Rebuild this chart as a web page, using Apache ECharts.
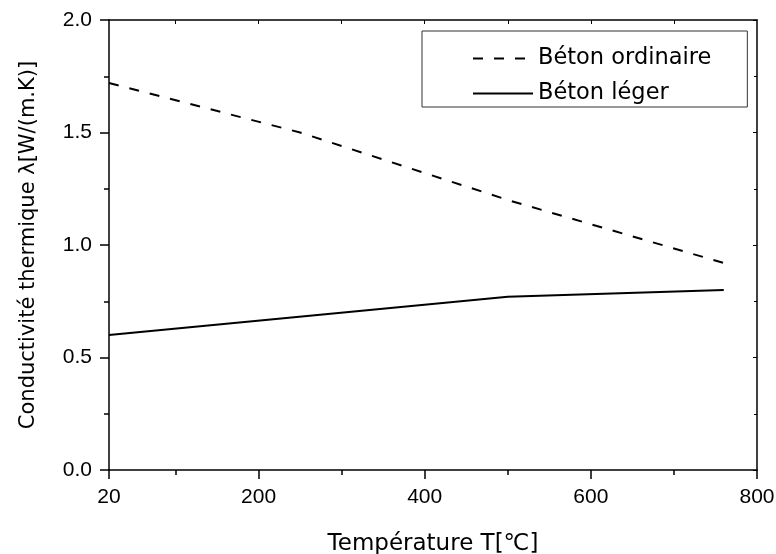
<!DOCTYPE html>
<html>
<head>
<meta charset="utf-8">
<script src="https://cdn.jsdelivr.net/npm/echarts@6/dist/echarts.min.js"></script>
<style>html,body{margin:0;padding:0;background:#fff}#c{width:776px;height:554px}</style>
</head>
<body>
<div id="c"></div>
<script>
const seriesNames = ['Béton ordinaire', 'Béton léger'];
const ordinaireT = [20, 250, 500, 760];
const ordinaireL = [1.72, 1.50, 1.20, 0.92];
const legerT = [20, 500, 760];
const legerL = [0.60, 0.77, 0.80];
const xMajorTicks = [20, 200, 400, 600, 800];
const xMinorTicks = [100, 300, 500, 700];
const xTopTicks = [100, 200, 300, 400, 500, 600, 700];
const xTitle = 'Température T[℃]';
const yTitle = 'Conductivité thermique λ[W/(m.K)]';

const FONT = '"DejaVu Sans", "Liberation Sans", Arial, sans-serif';
const TICKFONT = '"Liberation Sans", Arial, Helvetica, sans-serif';
const axisLine = { show: true, lineStyle: { color: '#000', width: 1.5 } };
const chart = echarts.init(document.getElementById('c'));
const pairs = (xs, ys) => xs.map((x, i) => [x, ys[i]]);

chart.setOption({
  animation: false,
  backgroundColor: '#fff',
  textStyle: { fontFamily: FONT },
  grid: { left: 109, right: 19, top: 20, bottom: 84, outerBoundsMode: 'none', containLabel: false },
  legend: {
    orient: 'vertical',
    left: 422, top: 31,
    padding: [16, 36, 2, 50],
    itemGap: 12,
    itemWidth: 60, itemHeight: 20,
    borderColor: '#333', borderWidth: 1,
    itemStyle: { opacity: 0 },
    textStyle: { fontSize: 22.5, color: '#000', fontFamily: FONT },
    data: seriesNames
  },
  xAxis: [
    {
      type: 'value', min: 20, max: 800, position: 'bottom',
      name: xTitle, nameLocation: 'middle', nameGap: 63,
      nameTextStyle: { fontSize: 23, color: '#000', fontFamily: FONT },
      axisLine: axisLine,
      axisTick: { show: true, inside: false, length: 9, customValues: xMajorTicks, lineStyle: { color: '#000', width: 1.5 } },
      axisLabel: { show: true, customValues: xMajorTicks, margin: 17, fontSize: 21, color: '#000', fontFamily: TICKFONT },
      splitLine: { show: false }
    },
    {
      type: 'value', min: 20, max: 800, position: 'bottom', offset: 0,
      axisLine: { show: false },
      axisTick: { show: true, inside: false, length: 5, customValues: xMinorTicks, lineStyle: { color: '#000', width: 1.5 } },
      axisLabel: { show: false },
      splitLine: { show: false }
    },
    {
      type: 'value', min: 20, max: 800, position: 'top',
      axisLine: axisLine,
      axisTick: { show: true, inside: true, length: 4, customValues: xTopTicks, lineStyle: { color: '#000', width: 1 } },
      axisLabel: { show: false },
      splitLine: { show: false }
    }
  ],
  yAxis: [
    {
      type: 'value', min: 0, max: 2, interval: 0.5, position: 'left',
      name: yTitle, nameLocation: 'middle', nameGap: 70, nameRotate: 90,
      nameTextStyle: { fontSize: 21, color: '#000', fontFamily: FONT },
      axisLine: axisLine,
      axisTick: { show: true, inside: false, length: 9, lineStyle: { color: '#000', width: 1.5 } },
      minorTick: { show: true, splitNumber: 2, length: 5, lineStyle: { color: '#000', width: 1.5 } },
      axisLabel: { margin: 17, fontSize: 21, color: '#000', fontFamily: TICKFONT, formatter: v => v.toFixed(1) },
      splitLine: { show: false }
    },
    {
      type: 'value', min: 0, max: 2, interval: 0.5, position: 'right',
      axisLine: axisLine,
      axisTick: { show: true, inside: true, length: 4, lineStyle: { color: '#000', width: 1 } },
      minorTick: { show: true, splitNumber: 2, length: 3, lineStyle: { color: '#000', width: 1 } },
      axisLabel: { show: false },
      splitLine: { show: false }
    }
  ],
  series: [
    {
      name: seriesNames[0], type: 'line', xAxisIndex: 0, yAxisIndex: 0,
      data: pairs(ordinaireT, ordinaireL),
      symbol: 'none', color: '#000',
      lineStyle: { color: '#000', width: 2, type: [10, 11] }
    },
    {
      name: seriesNames[1], type: 'line', xAxisIndex: 0, yAxisIndex: 0,
      data: pairs(legerT, legerL),
      symbol: 'none', color: '#000',
      lineStyle: { color: '#000', width: 2, type: 'solid' }
    }
  ]
});
</script>
</body>
</html>
